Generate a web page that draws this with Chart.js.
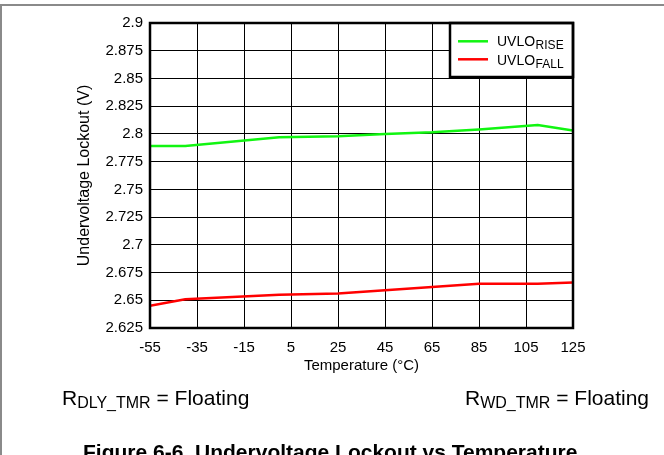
<!DOCTYPE html>
<html><head><meta charset="utf-8">
<script src="https://cdn.jsdelivr.net/npm/chart.js@4"></script>
<style>
html,body{margin:0;padding:0;background:#fff;overflow:hidden;}
#wrap{position:relative;width:664px;height:455px;font-family:'Liberation Sans',Arial,sans-serif;color:#000;overflow:hidden;}
#frameTop{position:absolute;left:0;top:4px;width:664px;height:2px;background:#8a8a8a;}
#frameLeft{position:absolute;left:0;top:4px;width:1.5px;height:451px;background:#8a8a8a;}
canvas{position:absolute;left:0;top:0;}
.note{position:absolute;font-size:21px;line-height:21px;white-space:nowrap;}
.note .sub{font-size:16px;position:relative;top:3px;}
#caption{position:absolute;left:83px;top:441px;font-size:21px;line-height:21px;font-weight:bold;white-space:nowrap;}
</style></head>
<body>
<div id="wrap">
  <canvas id="c" width="664" height="455"></canvas>
  <div id="frameTop"></div>
  <div id="frameLeft"></div>
  <div class="note" style="left:62px;top:387px;">R<span class="sub">DLY_TMR</span> = Floating</div>
  <div class="note" style="left:465px;top:387px;">R<span class="sub">WD_TMR</span> = Floating</div>
  <div id="caption">Figure 6-6. Undervoltage Lockout vs Temperature</div>
</div>
<script>
const temperatures = [-55, -40, 0, 25, 45, 65, 85, 110, 125];
const uvloRise = [2.789, 2.789, 2.797, 2.798, 2.800, 2.8015, 2.804, 2.808, 2.803];
const uvloFall = [2.645, 2.651, 2.655, 2.656, 2.659, 2.662, 2.665, 2.665, 2.666];
const xTickValues = [-55, -35, -15, 5, 25, 45, 65, 85, 105, 125];
const yTickValues = [2.625, 2.65, 2.675, 2.7, 2.725, 2.75, 2.775, 2.8, 2.825, 2.85, 2.875, 2.9];
const seriesNames = [['UVLO', 'RISE'], ['UVLO', 'FALL']];
const xTitle = 'Temperature (°C)';
const yTitle = 'Undervoltage Lockout (V)';

const FONT = "'Liberation Sans', Arial, sans-serif";
const toPts = ys => temperatures.map((t, i) => ({x: t, y: ys[i]}));

const framePlugin = {
  id: 'frame',
  afterDatasetsDraw(chart) {
    const {ctx, chartArea: a} = chart;
    const ds = chart.data.datasets;
    ctx.save();
    const lx = a.right - 123, ly = a.top, lw = 123, lh = 54;
    ctx.fillStyle = '#fff';
    ctx.fillRect(lx, ly, lw, lh);
    ctx.strokeStyle = '#000';
    ctx.lineWidth = 2.5;
    ctx.strokeRect(lx, ly, lw, lh);
    ds.forEach((d, i) => {
      const yLine = a.top + 18.3 + i * 18;
      ctx.strokeStyle = d.borderColor;
      ctx.lineWidth = 2.5;
      ctx.beginPath();
      ctx.moveTo(a.right - 115, yLine);
      ctx.lineTo(a.right - 85, yLine);
      ctx.stroke();
      const [main, sub] = seriesNames[i];
      ctx.fillStyle = '#000';
      ctx.textBaseline = 'alphabetic';
      ctx.textAlign = 'left';
      ctx.font = '14px ' + FONT;
      const tx = a.right - 76, ty = a.top + 23.3 + i * 19;
      ctx.fillText(main, tx, ty);
      const w = ctx.measureText(main).width;
      ctx.font = '12px ' + FONT;
      ctx.fillText(sub, tx + w + 0.5, ty + 2.5);
    });
    ctx.strokeStyle = '#000';
    ctx.lineWidth = 2.5;
    ctx.strokeRect(a.left, a.top, a.right - a.left, a.bottom - a.top);
    ctx.restore();
  }
};

new Chart(document.getElementById('c'), {
  type: 'line',
  data: {
    datasets: [
      {label: 'UVLO RISE', data: toPts(uvloRise), borderColor: '#11f511', borderWidth: 2.5, pointRadius: 0, tension: 0, fill: false},
      {label: 'UVLO FALL', data: toPts(uvloFall), borderColor: '#ff0000', borderWidth: 2.5, pointRadius: 0, tension: 0, fill: false}
    ]
  },
  options: {
    responsive: false,
    animation: false,
    devicePixelRatio: 1,
    layout: {padding: {left: 75, top: 23, right: 91, bottom: 80}},
    plugins: {legend: {display: false}, tooltip: {enabled: false}},
    scales: {
      x: {
        type: 'linear', min: -55, max: 125,
        afterBuildTicks: s => { s.ticks = xTickValues.map(v => ({value: v})); },
        afterFit: s => { s.height = 47; },
        grid: {color: '#000', lineWidth: 1, drawTicks: false},
        border: {display: false},
        ticks: {padding: 11, color: '#000', font: {family: FONT, size: 15}, maxRotation: 0, autoSkip: false, callback: v => String(v)},
        title: {display: true, text: xTitle, color: '#000', font: {family: FONT, size: 15}, padding: 0}
      },
      y: {
        type: 'linear', min: 2.625, max: 2.9,
        afterBuildTicks: s => { s.ticks = yTickValues.map(v => ({value: v})); },
        afterFit: s => { s.width = 75; },
        grid: {color: '#000', lineWidth: 1, drawTicks: false},
        border: {display: false},
        ticks: {padding: 7, color: '#000', font: {family: FONT, size: 15}, autoSkip: false, callback: v => String(+v.toFixed(3))},
        title: {display: true, text: yTitle, color: '#000', font: {family: FONT, size: 16}, padding: 0}
      }
    }
  },
  plugins: [framePlugin]
});
</script>
</body></html>
